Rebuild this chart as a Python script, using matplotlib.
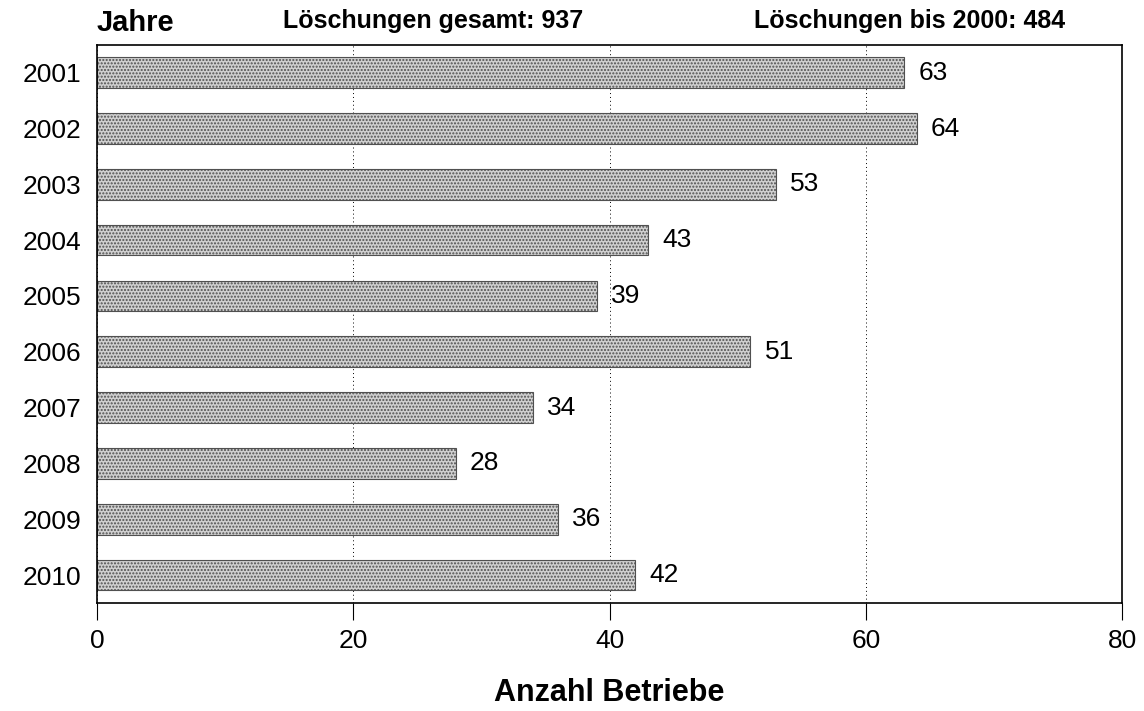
import matplotlib.pyplot as plt

plt.rcParams['font.family'] = ['Liberation Sans', 'DejaVu Sans']
plt.rcParams['hatch.color'] = '#9a9a9a'

years = ['2001', '2002', '2003', '2004', '2005', '2006', '2007', '2008', '2009', '2010']
counts = [63, 64, 53, 43, 39, 51, 34, 28, 36, 42]
xticks = [0, 20, 40, 60, 80]

fig = plt.figure(figsize=(11.44, 7.11), dpi=100)
ax = fig.add_axes([0.0848, 0.152, 0.896, 0.785])

pos = list(range(len(years)))
ax.barh(pos, counts, height=0.55, color='#d0d0d0', edgecolor='#505050',
        linewidth=0.8, hatch='.....', zorder=2)

for p, v in zip(pos, counts):
    ax.text(v + 1.1, p, str(v), va='center', ha='left', fontsize=19)

ax.set_xlim(0, 80)
ax.set_ylim(len(years) - 0.5, -0.5)
ax.set_xticks(xticks)
ax.set_xticklabels([str(t) for t in xticks], fontsize=19)
ax.set_yticks(pos)
ax.set_yticklabels(years, fontsize=19)
ax.tick_params(axis='x', direction='out', length=12, width=0.8, pad=7)
ax.tick_params(axis='y', length=0, pad=11)
ax.xaxis.grid(True, linestyle=(0, (1, 3)), color='black', linewidth=0.7, zorder=1)
for s in ax.spines.values():
    s.set_linewidth(1.2)

ax.set_xlabel('Anzahl Betriebe', fontsize=22, fontweight='bold', labelpad=18)

fig.text(0.0848, 0.967, 'Jahre', fontsize=21, fontweight='bold', va='center', ha='left')
fig.text(0.379, 0.971, 'Löschungen gesamt: 937', fontsize=18, fontweight='bold', va='center', ha='center')
fig.text(0.795, 0.971, 'Löschungen bis 2000: 484', fontsize=18, fontweight='bold', va='center', ha='center')

fig.savefig('out.png', dpi=100)
